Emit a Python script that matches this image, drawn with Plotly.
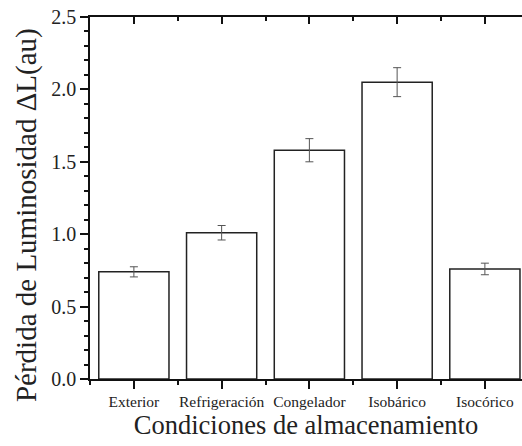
import plotly.graph_objects as go

categories = ["Exterior", "Refrigeración", "Congelador", "Isobárico", "Isocórico"]
values = [0.74, 1.01, 1.58, 2.05, 0.76]
errors = [0.035, 0.05, 0.08, 0.10, 0.04]
positions = list(range(len(categories)))

FONT = "Liberation Serif, DejaVu Serif, serif"

fig = go.Figure()
fig.add_trace(go.Bar(
    x=positions, y=values, width=0.8,
    marker=dict(color="white", line=dict(color="#222", width=1.5)),
    error_y=dict(type="data", array=errors, color="#555", thickness=1, width=4),
    showlegend=False,
))
# invisible helper trace so the mirrored top axis (inward ticks) is drawn
fig.add_trace(go.Scatter(x=positions, y=values, xaxis="x2", mode="none",
                         showlegend=False, hoverinfo="skip"))

axis_common = dict(range=[-0.5, 4.423], tickmode="array", tickvals=positions,
                   showline=True, linecolor="#111", linewidth=1.5, automargin=False,
                   tickcolor="#111", tickwidth=1.5, showgrid=False, zeroline=False)

fig.update_layout(
    width=522, height=446,
    margin=dict(l=90, r=0, t=17, b=67),
    paper_bgcolor="white", plot_bgcolor="white",
    font=dict(family=FONT, color="#222"),
    xaxis=dict(**axis_common, ticktext=categories, ticks="outside", ticklen=8,
               tickfont=dict(size=15.5),
               minor=dict(tickmode="linear", tick0=0.5, dtick=1, ticks="outside",
                          ticklen=4, tickcolor="#111", tickwidth=1.5),
               title=dict(text="Condiciones de almacenamiento", font=dict(size=26.5), standoff=6)),
    xaxis2=dict(**axis_common, overlaying="x", side="top", anchor="y",
                ticks="inside", ticklen=7, showticklabels=False,
                minor=dict(tickmode="linear", tick0=0.5, dtick=1, ticks="inside",
                           ticklen=4, tickcolor="#111", tickwidth=1.5)),
    yaxis=dict(range=[0, 2.5], dtick=0.5, tickformat=".1f", ticks="outside", ticklen=8,
               showline=True, linecolor="#111", linewidth=1.5, tickcolor="#111", tickwidth=1.5,
               showgrid=False, zeroline=False, tickfont=dict(size=20), automargin=False,
               minor=dict(dtick=0.1, ticks="outside", ticklen=4, tickcolor="#111", tickwidth=1.5)),
    annotations=[dict(text="Pérdida de Luminosidad ΔL(au)", textangle=-90,
                      xref="paper", yref="paper", x=-0.148, y=0.453,
                      xanchor="center", yanchor="middle", showarrow=False,
                      font=dict(size=29, family=FONT, color="#222"))],
)

fig.write_html("out.html", config={"displayModeBar": False},
               post_script="document.body.style.margin='0';")
